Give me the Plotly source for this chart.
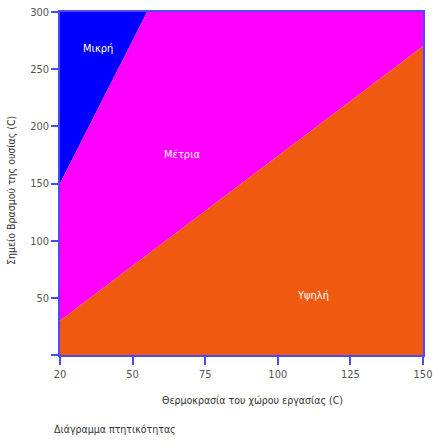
import plotly.graph_objects as go

# Tick definitions (left edge of x axis is labelled "20")
x_tickvals = [25, 50, 75, 100, 125, 150]
x_ticktext = ["20", "50", "75", "100", "125", "150"]
y_tickvals = [0, 50, 100, 150, 200, 250, 300]
y_ticktext = ["", "50", "100", "150", "200", "250", "300"]

# Region polygons (x = ambient temperature, y = boiling point)
low_x = [25, 55, 25]
low_y = [150, 300, 300]
mid_x = [25, 150, 150, 55, 25]
mid_y = [30, 270, 300, 300, 150]
high_x = [25, 150, 150, 25]
high_y = [0, 0, 270, 30]

region_names = ["Μικρή", "Μέτρια", "Υψηλή"]
region_colors = ["#0000ff", "#ff00ff", "#ef5a10"]
label_x = [38, 67, 112]
label_y = [268, 175, 52]

FONT = "DejaVu Sans Condensed, Liberation Sans, sans-serif"
AXIS = "#4a4aff"

fig = go.Figure()
for xs, ys, name, col in zip([low_x, mid_x, high_x], [low_y, mid_y, high_y],
                             region_names, region_colors):
    fig.add_trace(go.Scatter(x=xs, y=ys, fill="toself", fillcolor=col,
                             mode="lines", line=dict(width=0, color=col),
                             name=name, hoverinfo="name", showlegend=False))

for name, lx, ly in zip(region_names, label_x, label_y):
    fig.add_annotation(x=lx, y=ly, text=name, showarrow=False,
                       font=dict(family=FONT, size=11, color="white"))

fig.add_annotation(xref="paper", yref="paper", x=0.53, y=-0.155, xanchor="center",
                   text="Θερμοκρασία του χώρου εργασίας (C)", showarrow=False,
                   font=dict(family=FONT, size=10.5, color="#333333"))
fig.add_annotation(xref="paper", yref="paper", x=-0.022, y=-0.24,
                   xanchor="left", text="Διάγραμμα πτητικότητας", showarrow=False,
                   font=dict(family=FONT, size=10.5, color="#333333"))
fig.add_annotation(xref="paper", yref="paper", x=-0.133, y=0.48, xanchor="center",
                   textangle=-90, text="Σημείο Βρασμού της ουσίας (C)", showarrow=False,
                   font=dict(family=FONT, size=10.5, color="#333333"))

fig.update_layout(
    width=433, height=448,
    margin=dict(l=60, r=10, t=12, b=93),
    paper_bgcolor="white", plot_bgcolor="white",
    font=dict(family=FONT, size=11, color="#555555"),
    xaxis=dict(range=[25, 150], tickvals=x_tickvals, ticktext=x_ticktext,
               automargin=False,
               showgrid=False, zeroline=False, showline=True, linecolor=AXIS,
               linewidth=1.5, mirror=True, ticks="outside", tickcolor=AXIS,
               ticklen=8, tickwidth=1.5, tickfont=dict(size=11, color="#555555")),
    yaxis=dict(range=[0, 300], tickvals=y_tickvals, ticktext=y_ticktext,
               automargin=False,
               showgrid=False, zeroline=False, showline=True, linecolor=AXIS,
               linewidth=1.5, mirror=True, ticks="outside", tickcolor=AXIS,
               ticklen=7, tickwidth=1.5, tickfont=dict(size=11, color="#555555")),
)

fig.write_html("out.html", config={"displayModeBar": False},
               post_script="document.body.style.margin='0';document.body.style.padding='0';")
